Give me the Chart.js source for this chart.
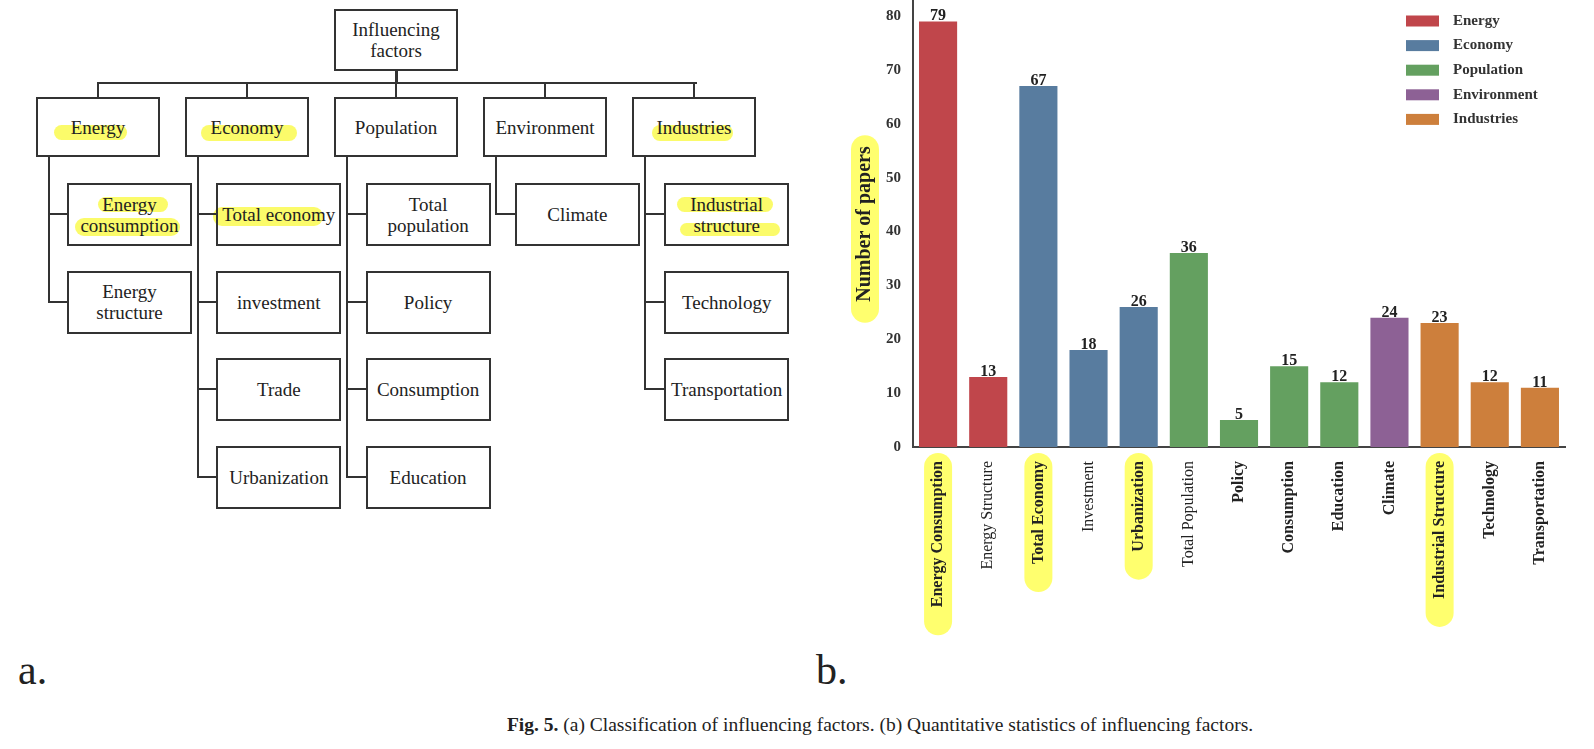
<!DOCTYPE html>
<html>
<head>
<meta charset="utf-8">
<script src="https://cdn.jsdelivr.net/npm/chart.js@4.4.1/dist/chart.umd.min.js"></script>
<style>
html, body { margin: 0; padding: 0; background: #fff; }
#page { position: relative; width: 1594px; height: 749px; overflow: hidden;
        font-family: "Liberation Serif", "DejaVu Serif", serif; color: #222; }
.box { position: absolute; box-sizing: border-box; border: 2px solid #333; z-index: 2;
       display: flex; align-items: center; justify-content: center; text-align: center;
       font-size: 19px; line-height: 21px; }
.ln { position: absolute; background: #333; z-index: 2; }
.hl { position: absolute; background: rgba(250, 250, 80, 0.85); border-radius: 9px; z-index: 1; }
#chart-wrap { position: absolute; left: 820px; top: -20px; width: 774px; height: 660px; }
.tag { position: absolute; top: 646px; font-size: 42px; color: #222; }
#caption { position: absolute; left: 880px; top: 714px; transform: translateX(-50%);
           font-size: 19.5px; color: #222; white-space: nowrap; }
</style>
</head>
<body>
<div id="page">
  <div id="tree"></div>
  <div id="chart-wrap"><canvas id="chart-factors"></canvas></div>
  <div class="tag" style="left:18px;">a.</div>
  <div class="tag" style="left:816px;">b.</div>
  <div id="caption"><b>Fig. 5.</b> (a) Classification of influencing factors. (b) Quantitative statistics of influencing factors.</div>
</div>
<script>
// --- données du graphique (b) ---
var categories = ['Energy Consumption', 'Energy Structure', 'Total Economy', 'Investment', 'Urbanization',
                  'Total Population', 'Policy', 'Consumption', 'Education', 'Climate',
                  'Industrial Structure', 'Technology', 'Transportation'];
var paperCounts = [79, 13, 67, 18, 26, 36, 5, 15, 12, 24, 23, 12, 11];
var categoryGroup = [0, 0, 1, 1, 1, 2, 2, 2, 2, 3, 4, 4, 4];
var groupNames = ['Energy', 'Economy', 'Population', 'Environment', 'Industries'];
var groupColors = ['#c0464b', '#587c9f', '#64a060', '#8d6195', '#cd7f3c'];
var yTicks = [0, 10, 20, 30, 40, 50, 60, 70, 80];
var highlighted = ['Energy Consumption', 'Total Economy', 'Urbanization', 'Industrial Structure'];
var lightLabels = ['Energy Structure', 'Investment', 'Total Population'];

// --- arbre (a) ---
var rootLabel = 'Influencing<br>factors';
var treeGroups = ['Energy', 'Economy', 'Population', 'Environment', 'Industries'];
var treeChildren = [
    ['Energy<br>consumption', 'Energy<br>structure'],
    ['Total economy', 'investment', 'Trade', 'Urbanization'],
    ['Total<br>population', 'Policy', 'Consumption', 'Education'],
    ['Climate'],
    ['Industrial<br>structure', 'Technology', 'Transportation']
];

var tree = document.getElementById('tree');

function addDiv(cls, x, y, w, h, html) {
    var d = document.createElement('div');
    d.className = cls;
    d.style.left = x + 'px';
    d.style.top = y + 'px';
    d.style.width = w + 'px';
    d.style.height = h + 'px';
    if (html) d.innerHTML = html;
    tree.appendChild(d);
    return d;
}

// racine
addDiv('box', 334, 9, 124, 62, rootLabel);
addDiv('ln', 395, 71, 3, 12);
addDiv('ln', 97, 82, 600, 2);

treeGroups.forEach(function (name, i) {
    var l1x = 36 + i * 149;
    var cx = l1x + 62;
    addDiv('ln', cx - 1, 83, 2, 14);
    addDiv('box', l1x, 97, 124, 60, name);

    var vx = 49 + i * 149;
    var l2x = 67 + i * 149.3;
    var kids = treeChildren[i];
    var lastMid = 183 + (kids.length - 1) * 87.7 + 31;
    addDiv('ln', vx - 1, 157, 2, lastMid - 157 + 1);
    kids.forEach(function (k, j) {
        var top = 183 + j * 87.7;
        addDiv('ln', vx, top + 30, l2x - vx, 2);
        addDiv('box', l2x, top, 125, 63, k);
    });
});

// surlignages au feutre
[
    [54, 125, 73, 15], [201, 125, 96, 16], [652, 125, 81, 16],
    [98, 197, 70, 15], [75, 218, 105, 18],
    [213, 207, 110, 19],
    [677, 197, 96, 15], [680, 223, 100, 13]
].forEach(function (h) { addDiv('hl', h[0], h[1], h[2], h[3]); });

// --- graphique (b) ---
var FONT = '"Liberation Serif", "DejaVu Serif", serif';

function pill(ctx, x, y, w, h) {
    var r = w / 2;
    ctx.beginPath();
    ctx.moveTo(x, y + r);
    ctx.arc(x + r, y + r, r, Math.PI, 0);
    ctx.lineTo(x + w, y + h - r);
    ctx.arc(x + r, y + h - r, r, 0, Math.PI);
    ctx.closePath();
    ctx.fill();
}

function tickFont(label) {
    return lightLabels.indexOf(label) >= 0
        ? { family: FONT, size: 16, weight: 'normal' }
        : { family: FONT, size: 16, weight: 'bold' };
}

var markerPills = {
    id: 'markerPills',
    beforeDraw: function (chart) {
        var ctx = chart.ctx, xs = chart.scales.x, area = chart.chartArea;
        ctx.save();
        ctx.fillStyle = '#ffff6e';
        categories.forEach(function (c, i) {
            if (highlighted.indexOf(c) < 0) return;
            var f = tickFont(c);
            ctx.font = f.weight + ' ' + f.size + 'px ' + FONT;
            var w = ctx.measureText(c).width;
            pill(ctx, xs.getPixelForTick(i) - 14, area.bottom + 6, 28, w + 36);
        });
        ctx.font = 'bold 20px ' + FONT;
        var tw = ctx.measureText('Number of papers').width;
        var cy = (area.top + area.bottom) / 2 + 5;
        pill(ctx, 31, cy - tw / 2 - 16, 28, tw + 32);
        ctx.restore();
    }
};

var valueLabels = {
    id: 'valueLabels',
    afterDatasetsDraw: function (chart) {
        var ctx = chart.ctx;
        ctx.save();
        ctx.font = 'bold 16px ' + FONT;
        ctx.fillStyle = '#222';
        ctx.textAlign = 'center';
        ctx.textBaseline = 'alphabetic';
        chart.data.datasets.forEach(function (ds, di) {
            var meta = chart.getDatasetMeta(di);
            meta.data.forEach(function (bar, i) {
                if (ds.data[i] == null) return;
                ctx.fillText(ds.data[i], bar.x, bar.y - 1);
            });
        });
        ctx.restore();
    }
};

// légende dessinée en haut à droite (le canvas est décalé de 20px vers le haut)
var boxLegend = {
    id: 'boxLegend',
    afterDraw: function (chart) {
        var ctx = chart.ctx;
        ctx.save();
        ctx.font = 'bold 15px ' + FONT;
        ctx.textBaseline = 'middle';
        ctx.textAlign = 'left';
        groupNames.forEach(function (name, g) {
            var cy = 41 + g * 24.6;
            ctx.fillStyle = groupColors[g];
            ctx.fillRect(586, cy - 5.5, 33, 11);
            ctx.fillStyle = '#333';
            ctx.fillText(name, 633, cy);
        });
        ctx.restore();
    }
};

var datasets = groupNames.map(function (name, g) {
    return {
        label: name,
        data: paperCounts.map(function (v, i) { return categoryGroup[i] === g ? v : null; }),
        backgroundColor: groupColors[g],
        borderWidth: 0,
        grouped: false,
        categoryPercentage: 1,
        barPercentage: 0.76
    };
});

new Chart(document.getElementById('chart-factors'), {
    type: 'bar',
    data: { labels: categories, datasets: datasets },
    plugins: [markerPills, valueLabels, boxLegend],
    options: {
        responsive: true,
        maintainAspectRatio: false,
        animation: false,
        layout: { padding: { left: 0, right: 29, top: 0, bottom: 0 } },
        plugins: { legend: { display: false }, tooltip: { enabled: false } },
        scales: {
            x: {
                grid: { display: false, drawTicks: false },
                border: { display: true, color: '#444', width: 2 },
                ticks: {
                    autoSkip: false, minRotation: 90, maxRotation: 90, padding: 14,
                    color: '#222',
                    font: function (ctx) { return tickFont(categories[ctx.index]); }
                },
                afterFit: function (scale) { scale.height = 193; }
            },
            y: {
                min: 0,
                max: 82.8,
                grid: { display: false, drawTicks: false },
                border: { display: true, color: '#444', width: 2 },
                ticks: { color: '#333', padding: 12, font: { family: FONT, size: 15, weight: 'bold' } },
                afterBuildTicks: function (scale) {
                    scale.ticks = yTicks.map(function (v) { return { value: v }; });
                },
                title: {
                    display: true, text: 'Number of papers', color: '#222',
                    font: { family: FONT, size: 20, weight: 'bold' },
                    padding: { top: 33, bottom: 0 }
                },
                afterFit: function (scale) { scale.width = 93; }
            }
        }
    }
});
</script>
</body>
</html>
